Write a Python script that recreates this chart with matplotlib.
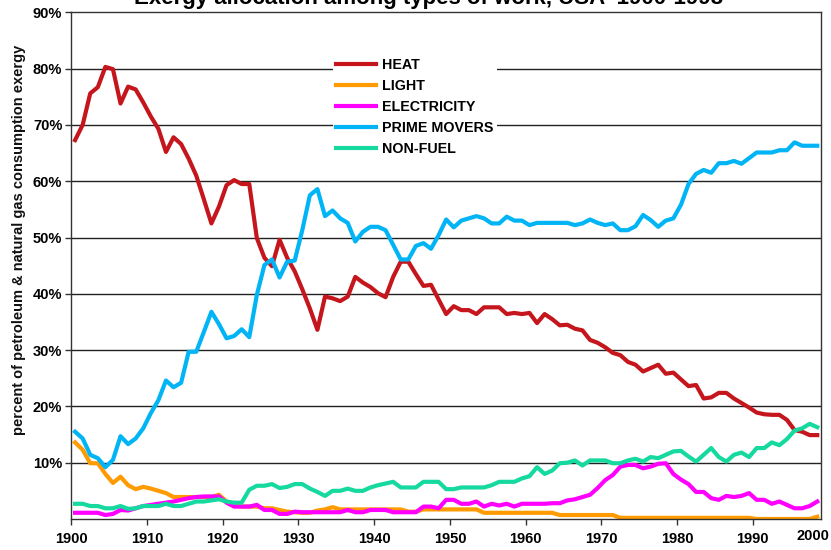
import numpy as np
import matplotlib
matplotlib.use("Agg")
import matplotlib.pyplot as plt
from matplotlib.transforms import blended_transform_factory

plt.rcParams['font.family'] = ['Liberation Sans', 'DejaVu Sans']

# ---- data (percent, 1900-1998) ----
years = list(range(1900, 1999))

heat = [67.3, 70.0, 75.6, 76.7, 80.3, 79.9, 73.8, 76.8, 76.3, 74.0,
        71.5, 69.3, 65.2, 67.8, 66.6, 64.0, 61.0, 56.8, 52.5, 55.5,
        59.3, 60.2, 59.5, 59.5, 49.9, 46.4, 44.9, 49.6, 46.4, 44.0,
        40.8, 37.4, 33.6, 39.5, 39.2, 38.7, 39.5, 43.0, 42.0, 41.2,
        40.1, 39.4, 43.0, 45.7, 45.7, 43.5, 41.4, 41.6, 39.0, 36.4,
        37.8, 37.1, 37.1, 36.4, 37.6, 37.6, 37.6, 36.4, 36.6, 36.4,
        36.6, 34.8, 36.4, 35.5, 34.4, 34.5, 33.8, 33.5, 31.8, 31.3,
        30.5, 29.5, 29.1, 27.9, 27.4, 26.2, 26.8, 27.4, 25.8, 26.0,
        24.8, 23.6, 23.8, 21.4, 21.6, 22.4, 22.4, 21.4, 20.6, 19.8,
        18.9, 18.6, 18.5, 18.5, 17.6, 15.8, 15.5, 14.9, 14.9]

light = [13.6, 12.3, 9.9, 9.9, 8.0, 6.4, 7.5, 6.0, 5.3, 5.7,
         5.4, 5.0, 4.6, 3.9, 3.9, 3.9, 3.9, 3.9, 3.9, 4.3,
         3.1, 2.5, 2.2, 2.2, 2.2, 1.9, 1.9, 1.6, 1.3, 1.2,
         1.1, 1.1, 1.5, 1.7, 2.1, 1.7, 1.7, 1.7, 1.7, 1.7,
         1.7, 1.7, 1.7, 1.7, 1.3, 1.3, 1.7, 1.7, 1.7, 1.7,
         1.7, 1.7, 1.7, 1.7, 1.1, 1.1, 1.1, 1.1, 1.1, 1.1,
         1.1, 1.1, 1.1, 1.1, 0.7, 0.7, 0.7, 0.7, 0.7, 0.7,
         0.7, 0.7, 0.2, 0.2, 0.2, 0.2, 0.2, 0.2, 0.2, 0.2,
         0.2, 0.2, 0.2, 0.2, 0.2, 0.2, 0.2, 0.2, 0.2, 0.2,
         0.0, 0.0, 0.0, 0.0, 0.0, 0.0, 0.0, 0.0, 0.4]

electricity = [1.1, 1.1, 1.1, 1.1, 0.7, 0.9, 1.6, 1.5, 1.9, 2.3,
               2.5, 2.7, 2.9, 3.1, 3.4, 3.7, 3.9, 4.0, 4.0, 4.0,
               2.9, 2.2, 2.2, 2.2, 2.5, 1.6, 1.6, 0.9, 0.9, 1.3,
               1.2, 1.2, 1.2, 1.2, 1.2, 1.2, 1.6, 1.2, 1.2, 1.6,
               1.6, 1.6, 1.2, 1.2, 1.2, 1.2, 2.2, 2.2, 1.9, 3.4,
               3.4, 2.7, 2.7, 3.1, 2.2, 2.7, 2.4, 2.7, 2.2, 2.7,
               2.7, 2.7, 2.7, 2.8, 2.8, 3.3, 3.5, 3.9, 4.3, 5.5,
               6.9, 7.8, 9.3, 9.6, 9.6, 9.0, 9.3, 9.8, 9.9, 8.0,
               7.0, 6.2, 4.8, 4.8, 3.7, 3.4, 4.1, 3.9, 4.1, 4.6,
               3.4, 3.4, 2.7, 3.1, 2.5, 1.9, 1.9, 2.3, 3.1]

prime_movers = [15.5, 14.3, 11.4, 10.8, 9.2, 10.5, 14.7, 13.3, 14.3, 16.1,
                18.8, 21.1, 24.6, 23.4, 24.2, 29.7, 29.7, 33.2, 36.8, 34.6,
                32.1, 32.5, 33.7, 32.3, 39.8, 45.1, 46.1, 42.9, 45.7, 45.9,
                51.3, 57.5, 58.6, 53.8, 54.8, 53.4, 52.6, 49.3, 51.0, 51.9,
                51.9, 51.3, 48.7, 46.1, 46.1, 48.5, 49.0, 48.0, 50.4, 53.2,
                51.8, 53.0, 53.4, 53.8, 53.4, 52.5, 52.5, 53.7, 53.0, 53.0,
                52.2, 52.6, 52.6, 52.6, 52.6, 52.6, 52.2, 52.5, 53.2, 52.6,
                52.2, 52.5, 51.3, 51.3, 52.0, 54.0, 53.1, 51.9, 53.0, 53.4,
                55.8, 59.5, 61.3, 62.0, 61.5, 63.2, 63.2, 63.6, 63.1, 64.1,
                65.1, 65.1, 65.1, 65.5, 65.5, 66.9, 66.3, 66.3, 66.3]

non_fuel = [2.7, 2.7, 2.3, 2.3, 1.9, 1.9, 2.3, 1.8, 1.9, 2.3,
            2.3, 2.3, 2.7, 2.3, 2.3, 2.7, 3.1, 3.1, 3.3, 3.5,
            3.1, 2.9, 2.9, 5.2, 5.9, 5.9, 6.2, 5.5, 5.7, 6.2,
            6.2, 5.4, 4.8, 4.1, 5.0, 5.0, 5.4, 5.0, 5.0, 5.6,
            6.0, 6.3, 6.6, 5.6, 5.6, 5.6, 6.6, 6.6, 6.6, 5.3,
            5.3, 5.6, 5.6, 5.6, 5.6, 6.0, 6.6, 6.6, 6.6, 7.2,
            7.6, 9.2, 8.0, 8.6, 9.9, 10.0, 10.4, 9.5, 10.4, 10.4,
            10.4, 9.9, 9.9, 10.4, 10.7, 10.2, 11.0, 10.8, 11.4, 12.0,
            12.1, 11.1, 10.2, 11.4, 12.6, 11.0, 10.2, 11.4, 11.8, 11.0,
            12.6, 12.6, 13.6, 13.1, 14.2, 15.7, 16.1, 16.9, 16.3]

series_names = ['HEAT', 'LIGHT', 'ELECTRICITY', 'PRIME MOVERS', 'NON-FUEL']
series_colors = ['#C4161C', '#FF9A00', '#FF00FF', '#00B4F5', '#16D9A0']
decade_labels = ['1900', '1910', '1920', '1930', '1940', '1950',
                 '1960', '1970', '1980', '1990']

# ---- figure ----
fig = plt.figure(figsize=(8.31, 5.5), dpi=100)
ax = fig.add_axes([0.0858, 0.0564, 0.9022, 0.9212])

# each year sits in the middle of its category slot
x = np.array(years) + 0.5
for vals, name, col in zip([heat, light, electricity, prime_movers, non_fuel],
                           series_names, series_colors):
    ax.plot(x, vals, color=col, lw=3.0, label=name, solid_joinstyle='round')

ax.set_xlim(1900, 1999)
ax.set_ylim(0, 90)

ax.set_yticks(np.arange(10, 91, 10))
ax.set_yticklabels(['%d%%' % v for v in range(10, 91, 10)],
                   fontsize=10.5, fontweight='bold')
ax.set_xticks(np.arange(1900, 1991, 10))
ax.set_xticklabels(decade_labels, fontsize=10.5, fontweight='bold')
ax.tick_params(axis='both', direction='out', length=4.5, width=1, color='#333333')
ax.tick_params(axis='x', pad=5)
ax.tick_params(axis='y', pad=2)

# last label of the category axis
trans = blended_transform_factory(ax.transData, ax.transAxes)
ax.text(1997.9, -0.019, '2000', transform=trans, ha='center', va='top',
        fontsize=10.5, fontweight='bold')

for yv in range(10, 90, 10):
    ax.axhline(yv, color='#222222', lw=1.0, zorder=0.5)
for sp in ax.spines.values():
    sp.set_color('#333333')
    sp.set_linewidth(1.0)

ax.set_ylabel('percent of petroleum & natural gas consumption exergy',
              fontsize=10.5, fontweight='bold', color='#111111')
ax.yaxis.set_label_coords(-0.06, 0.55)

leg = ax.legend(loc='upper left', bbox_to_anchor=(333 / 831, 1 - 55 / 550),
                bbox_transform=fig.transFigure, frameon=True, fancybox=False,
                framealpha=1, edgecolor='none', facecolor='white',
                prop={'size': 10.3, 'weight': 'bold'}, handlelength=2.8,
                handletextpad=0.45, labelspacing=0.5, borderpad=0.2,
                borderaxespad=0)

fig.text(0.516, 1 - 4 / 550, 'Exergy allocation among types of work, USA  1900-1998',
         ha='center', va='baseline', fontsize=16, fontweight='bold')

fig.savefig('out.png', dpi=100)
